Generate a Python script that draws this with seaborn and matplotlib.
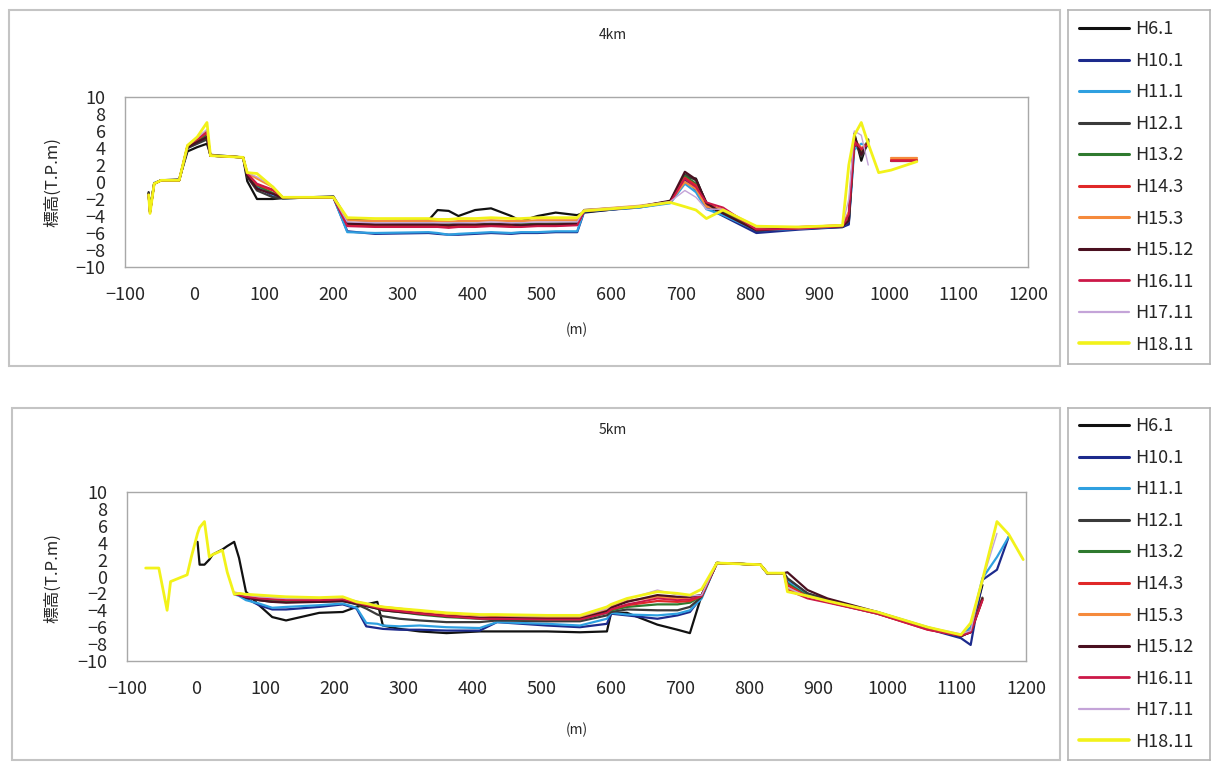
import numpy as np
import pandas as pd
import seaborn as sns
import matplotlib.pyplot as plt
from matplotlib.lines import Line2D
from matplotlib.patches import Rectangle

nan = np.nan

names = ["H6.1", "H10.1", "H11.1", "H12.1", "H13.2", "H14.3",
         "H15.3", "H15.12", "H16.11", "H17.11", "H18.11"]
colors = ["#111111", "#1c2a8c", "#2fa0e0", "#3a3a3a", "#2f7a2f", "#e02828",
          "#f58a3c", "#4a1020", "#cc1848", "#c4a4d8", "#f2f21a"]
widths = [1.6, 1.6, 1.6, 1.6, 1.6, 1.6, 1.6, 1.6, 1.4, 1.0, 2.0]

x_ticks = list(range(-100, 1201, 100))
y_ticks = list(range(-10, 11, 2))

# ---- 4km cross section ----
x_4km = [-66, -64, -58, -48, -22, -10, 4, 18, 23,
         70, 76, 90, 113, 127, 200, 220, 260, 337,
         350, 366, 380, 404, 427, 456, 470, 494, 520,
         551, 561, 640, 685, 706, 722, 737, 761, 809,
         870, 933, 942, 950, 960, 970, 985, 1003, 1040]

h6_1_4km = [-1.2, -3.2, -0.2, 0.2, 0.3, 3.6, 4.1, 4.5, 3.2,
            2.9, 0.1, -2.0, -2.0, -1.9, -1.7, -4.4, -4.6, -4.5,
            -3.3, -3.4, -4.0, -3.3, -3.1, -4.0, -4.6, -4.0, -3.6,
            -3.9, -3.6, -2.9, -2.3, 0.6, 0.4, -2.6, -3.8, -5.8,
            -5.5, -5.3, -4.8, 5.7, 2.5, 5.0, nan, nan, nan]
h10_1_4km = [-1.4, -3.5, -0.2, 0.2, 0.2, 4.0, 4.6, 5.2, 3.1,
             2.9, 0.8, -0.6, -1.6, -1.9, -1.8, -5.8, -6.1, -6.0,
             -6.1, -6.2, -6.2, -6.1, -6.0, -6.1, -6.0, -6.0, -5.9,
             -5.9, -3.5, -3.0, -2.4, 0.3, -0.9, -3.0, -4.0, -6.0,
             -5.6, -5.3, -5.0, 4.5, 3.5, 4.8, nan, nan, nan]
h11_1_4km = [-1.4, -3.5, -0.1, 0.2, 0.2, 4.1, 4.8, 5.5, 3.1,
             2.9, 0.9, -0.4, -1.5, -1.9, -1.8, -5.9, -6.0, -5.9,
             -6.0, -6.2, -6.1, -6.0, -5.9, -6.0, -5.9, -5.9, -5.8,
             -5.8, -3.4, -3.0, -2.5, -0.2, -1.2, -3.2, -3.9, -5.7,
             -5.5, -5.2, -4.6, 3.8, 4.5, 4.2, nan, nan, nan]
h12_1_4km = [-1.3, -3.4, -0.2, 0.2, 0.2, 4.0, 4.5, 5.0, 3.1,
             2.9, 0.6, -1.0, -1.8, -1.9, -1.8, -4.8, -5.0, -4.9,
             -5.0, -5.0, -4.9, -5.0, -4.9, -5.0, -4.9, -4.9, -4.9,
             -4.8, -3.4, -2.9, -2.3, 0.9, 0.2, -2.4, -3.6, -5.6,
             -5.4, -5.2, -4.4, 5.2, 3.0, 4.6, nan, nan, nan]
h13_2_4km = [-1.4, -3.5, -0.2, 0.2, 0.2, 4.2, 4.9, 5.6, 3.1,
             2.9, 0.8, -0.4, -1.3, -1.9, -1.8, -4.9, -5.1, -5.0,
             -5.1, -5.0, -5.1, -5.0, -5.0, -5.1, -5.0, -5.0, -4.9,
             -4.9, -3.3, -2.9, -2.3, 0.7, -0.2, -2.7, -3.5, -5.5,
             -5.4, -5.2, -4.2, 4.8, 3.6, 4.9, nan, 2.5, 2.5]
h14_3_4km = [-1.5, -3.6, -0.2, 0.2, 0.2, 4.2, 5.0, 5.8, 3.1,
             2.9, 1.0, -0.3, -1.0, -1.8, -1.8, -5.1, -5.2, -5.2,
             -5.2, -5.3, -5.2, -5.2, -5.1, -5.2, -5.2, -5.1, -5.1,
             -5.0, -3.4, -2.9, -2.3, 0.5, -0.4, -2.6, -3.3, -5.4,
             -5.3, -5.1, -4.0, 4.6, 3.8, 4.7, nan, 2.6, 2.6]
h15_3_4km = [-1.5, -3.6, -0.2, 0.2, 0.2, 4.3, 5.2, 6.0, 3.1,
             2.9, 1.1, 0.4, -0.6, -1.8, -1.8, -4.5, -4.6, -4.6,
             -4.6, -4.7, -4.6, -4.6, -4.5, -4.6, -4.6, -4.5, -4.5,
             -4.5, -3.3, -2.8, -2.3, 0.0, -0.8, -2.9, -3.2, -5.3,
             -5.3, -5.1, -3.5, 5.0, 4.0, 4.5, nan, 2.8, 2.8]
h15_12_4km = [-1.4, -3.5, -0.2, 0.2, 0.2, 4.1, 4.7, 5.3, 3.1,
              2.9, 0.7, -0.8, -1.4, -1.9, -1.8, -4.9, -5.0, -5.0,
              -5.0, -5.1, -5.0, -5.0, -5.0, -5.0, -5.1, -5.0, -5.0,
              -4.9, -3.4, -2.9, -2.2, 1.2, 0.3, -2.5, -3.7, -5.7,
              -5.4, -5.2, -4.6, 5.4, 3.2, 4.8, nan, nan, nan]
h16_11_4km = [-1.5, -3.6, -0.2, 0.2, 0.2, 4.3, 5.1, 5.9, 3.1,
              2.9, 1.0, -0.2, -0.9, -1.8, -1.8, -5.2, -5.3, -5.3,
              -5.3, -5.4, -5.3, -5.3, -5.2, -5.3, -5.3, -5.2, -5.2,
              -5.1, -3.4, -2.9, -2.4, 0.4, -0.6, -2.4, -3.0, -5.6,
              -5.5, -5.2, -3.8, 4.8, 3.9, 4.4, nan, 2.5, 2.5]
h17_11_4km = [-1.5, -3.6, -0.2, 0.2, 0.2, 4.3, 5.2, 6.2, 3.1,
              2.9, 1.1, 0.6, -0.5, -1.8, -1.8, -4.7, -4.8, -4.8,
              -4.8, -4.8, -4.8, -4.8, -4.7, -4.8, -4.8, -4.7, -4.7,
              -4.7, -3.3, -2.8, -2.3, -1.0, -1.8, -3.2, -3.2, -5.3,
              -5.3, -5.1, -2.0, 6.0, 5.5, 2.0, nan, nan, nan]
h18_11_4km = [-1.5, -3.7, -0.2, 0.2, 0.2, 4.3, 5.3, 7.0, 3.1,
              2.9, 1.1, 1.0, -0.6, -1.8, -1.8, -4.2, -4.3, -4.3,
              -4.4, -4.4, -4.3, -4.3, -4.2, -4.3, -4.3, -4.2, -4.2,
              -4.2, -3.4, -2.9, -2.4, -2.9, -3.3, -4.3, -3.3, -5.2,
              -5.3, -5.1, 2.0, 5.5, 7.0, 4.5, 1.1, 1.4, 2.4]

# ---- 5km cross section ----
x_5km = [-73, -54, -42, -37, -13, -7, 2, 5, 12,
         19, 24, 38, 45, 55, 62, 72, 91, 110,
         130, 178, 212, 232, 246, 262, 270, 294, 323,
         362, 410, 435, 507, 555, 594, 600, 623, 667,
         696, 714, 731, 753, 816, 826, 850, 855, 884,
         913, 985, 1058, 1106, 1120, 1137, 1158, 1175, 1196]

h6_1_5km = [nan, nan, nan, nan, nan, nan, 4.1, 1.4, 1.4,
            2.0, 2.6, 3.2, 3.6, 4.1, 2.2, -1.8, -3.4, -4.8,
            -5.2, -4.3, -4.2, -3.6, -3.3, -3.0, -5.8, -6.2, -6.5,
            -6.7, -6.5, -6.5, -6.5, -6.6, -6.5, -4.3, -4.3, -5.7,
            -6.3, -6.7, -2.2, 1.6, 1.4, 0.4, 0.4, -1.0, -2.2,
            -2.8, -4.3, -6.2, -7.1, -6.5, -1.0, nan, nan, nan]
h10_1_5km = [nan, nan, nan, nan, nan, nan, nan, nan, nan,
             nan, nan, nan, nan, -2.0, -2.2, -2.6, -3.4, -3.9,
             -3.9, -3.6, -3.3, -3.8, -5.9, -6.1, -6.2, -6.3, -6.3,
             -6.4, -6.4, -5.4, -5.8, -6.0, -5.6, -4.4, -4.6, -5.0,
             -4.6, -4.2, -2.4, 1.6, 1.4, 0.3, 0.4, -0.3, -2.0,
             -2.8, -4.3, -6.2, -7.3, -8.1, -0.4, 0.8, 4.7, nan]
h11_1_5km = [nan, nan, nan, nan, nan, nan, nan, nan, nan,
             nan, nan, nan, nan, -2.1, -2.3, -2.8, -3.2, -3.7,
             -3.6, -3.4, -3.2, -3.7, -5.5, -5.6, -5.8, -5.9, -5.8,
             -6.0, -6.1, -5.4, -5.6, -5.8, -5.0, -4.3, -4.5, -4.6,
             -4.4, -4.0, -2.6, 1.6, 1.4, 0.4, 0.4, -0.6, -2.2,
             -2.9, -4.2, -6.0, -7.0, -6.0, -0.2, 2.3, 4.7, nan]
h12_1_5km = [nan, nan, nan, nan, nan, nan, nan, nan, nan,
             nan, nan, nan, nan, -2.0, -2.1, -2.4, -2.8, -3.0,
             -3.0, -3.0, -2.9, -3.3, -3.8, -4.5, -4.7, -5.0, -5.2,
             -5.4, -5.4, -5.2, -5.3, -5.3, -4.6, -4.2, -3.9, -4.0,
             -4.0, -3.6, -2.4, 1.6, 1.4, 0.4, 0.4, -0.2, -2.0,
             -2.7, -4.3, -6.1, -7.0, -6.4, -2.5, nan, nan, nan]
h13_2_5km = [nan, nan, nan, nan, nan, nan, nan, nan, nan,
             nan, nan, nan, nan, -2.0, -2.1, -2.3, -2.6, -2.8,
             -2.9, -2.9, -2.8, -3.2, -3.5, -3.8, -4.0, -4.2, -4.5,
             -4.8, -5.0, -5.0, -5.1, -5.1, -4.3, -4.0, -3.6, -3.3,
             -3.3, -3.1, -2.3, 1.6, 1.4, 0.4, 0.4, -0.8, -2.3,
             -3.0, -4.4, -6.2, -7.0, -6.6, -2.7, nan, nan, nan]
h14_3_5km = [nan, nan, nan, nan, nan, nan, nan, nan, nan,
             nan, nan, nan, nan, -2.0, -2.1, -2.3, -2.5, -2.6,
             -2.7, -2.8, -2.7, -3.1, -3.4, -3.6, -3.8, -4.0, -4.3,
             -4.6, -4.9, -5.0, -5.0, -5.0, -4.2, -3.9, -3.4, -2.9,
             -3.0, -2.9, -2.3, 1.6, 1.4, 0.4, 0.4, -1.0, -2.4,
             -3.0, -4.4, -6.3, -7.0, -6.6, -2.8, nan, nan, nan]
h15_3_5km = [nan, nan, nan, nan, nan, nan, nan, nan, nan,
             nan, nan, nan, nan, -1.9, -2.0, -2.2, -2.4, -2.5,
             -2.6, -2.6, -2.6, -3.0, -3.3, -3.5, -3.6, -3.8, -4.1,
             -4.4, -4.6, -4.7, -4.8, -4.8, -3.9, -3.5, -2.9, -2.4,
             -2.6, -2.5, -2.2, 1.6, 1.4, 0.4, 0.4, -1.4, -2.5,
             -3.0, -4.3, -6.2, -6.9, -6.5, -2.6, nan, nan, nan]
h15_12_5km = [nan, nan, nan, nan, nan, nan, nan, nan, nan,
              nan, nan, nan, nan, -2.0, -2.2, -2.5, -2.8, -3.0,
              -3.1, -3.0, -2.9, -3.2, -3.5, -3.8, -4.0, -4.2, -4.4,
              -4.7, -4.9, -4.9, -5.0, -5.0, -4.1, -3.7, -3.0, -2.2,
              -2.4, -2.4, -2.2, 1.6, 1.4, 0.4, 0.4, 0.5, -1.6,
              -2.6, -4.2, -6.1, -7.0, -6.6, -2.6, nan, nan, nan]
h16_11_5km = [nan, nan, nan, nan, nan, nan, nan, nan, nan,
              nan, nan, nan, nan, -2.1, -2.2, -2.4, -2.6, -2.7,
              -2.8, -2.8, -2.7, -3.1, -3.4, -3.7, -3.9, -4.1, -4.4,
              -4.7, -5.0, -5.0, -5.1, -5.1, -4.3, -3.9, -3.3, -2.6,
              -2.8, -2.7, -2.3, 1.6, 1.4, 0.4, 0.4, -1.6, -2.6,
              -3.1, -4.4, -6.3, -7.0, -6.6, -2.8, nan, nan, nan]
h17_11_5km = [nan, nan, nan, nan, nan, nan, nan, nan, nan,
              nan, nan, nan, nan, -1.9, -2.0, -2.2, -2.4, -2.5,
              -2.6, -2.6, -2.5, -2.9, -3.2, -3.4, -3.6, -3.8, -4.0,
              -4.3, -4.5, -4.6, -4.7, -4.7, -3.8, -3.4, -2.7, -1.6,
              -2.2, -2.3, -2.2, 1.6, 1.4, 0.4, 0.4, -1.3, -2.4,
              -2.9, -4.2, -6.0, -6.8, -6.4, -0.5, 5.1, nan, nan]
h18_11_5km = [1.0, 1.0, -4.0, -0.6, 0.2, 2.3, 5.1, 5.8, 6.5,
              2.3, 2.6, 3.1, 0.5, -2.1, -2.0, -2.1, -2.2, -2.3,
              -2.4, -2.5, -2.4, -3.0, -3.2, -3.5, -3.6, -3.8, -4.0,
              -4.3, -4.5, -4.5, -4.6, -4.6, -3.6, -3.3, -2.6, -1.8,
              -2.0, -2.2, -1.5, 1.6, 1.4, 0.4, 0.4, -1.8, -2.3,
              -2.9, -4.2, -6.0, -6.9, -5.5, -0.4, 6.5, 5.0, 2.0]

series_4km = [h6_1_4km, h10_1_4km, h11_1_4km, h12_1_4km, h13_2_4km, h14_3_4km,
              h15_3_4km, h15_12_4km, h16_11_4km, h17_11_4km, h18_11_4km]
series_5km = [h6_1_5km, h10_1_5km, h11_1_5km, h12_1_5km, h13_2_5km, h14_3_5km,
              h15_3_5km, h15_12_5km, h16_11_5km, h17_11_5km, h18_11_5km]


def long_table(xs, series):
    # gaps (nan) split a survey line into separate pieces
    rows = []
    for name, ys in zip(names, series):
        seg = 0
        for x, y in zip(xs, ys):
            if np.isnan(y):
                seg += 1
                continue
            rows.append((x, y, name, f"{name}_{seg}"))
    return pd.DataFrame(rows, columns=["x", "y", "series", "seg"])


W, H = 1213, 762


def fx(px):
    return px / W


def fy(py):
    return 1 - py / H


sns.set_style("white")
plt.rcParams["font.family"] = ["Noto Sans CJK JP", "DejaVu Sans"]

fig = plt.figure(figsize=(W / 100, H / 100), dpi=100)

panels = [
    dict(title="4km", series=series_4km, xs=x_4km, box=(9, 10, 1060, 366),
         plot=(125, 97, 1028, 267), title_y=35, xlabel_y=330, ylabel_y=182,
         legend=(1068, 10, 1210, 364)),
    dict(title="5km", series=series_5km, xs=x_5km, box=(12, 408, 1060, 760),
         plot=(127, 492, 1026, 661), title_y=430, xlabel_y=730, ylabel_y=578,
         legend=(1068, 408, 1210, 760)),
]

pal = dict(zip(names, colors))
lw = dict(zip(names, widths))

for p in panels:
    x0, y0, x1, y1 = p["box"]
    fig.patches.append(Rectangle((fx(x0), fy(y1)), fx(x1) - fx(x0), fy(y0) - fy(y1),
                                 transform=fig.transFigure, fill=False,
                                 edgecolor="#c4c4c4", linewidth=1.5))

    l, t, r, b = p["plot"]
    ax = fig.add_axes([fx(l), fy(b), fx(r) - fx(l), fy(t) - fy(b)])
    df = long_table(p["xs"], p["series"])
    sns.lineplot(data=df, x="x", y="y", hue="series", size="series", units="seg",
                 estimator=None, sort=False, hue_order=names, palette=pal,
                 size_order=names, sizes=lw, legend=False, ax=ax)
    ax.set_xlim(-100, 1200)
    ax.set_ylim(-10, 10)
    ax.set_xticks(x_ticks)
    ax.set_yticks(y_ticks)
    ax.set_xlabel("")
    ax.set_ylabel("")
    for s in ax.spines.values():
        s.set_color("#a8a8a8")
        s.set_linewidth(1.0)
    ax.tick_params(axis="x", direction="inout", length=6, color="#a8a8a8",
                   labelsize=13, pad=11)
    ax.tick_params(axis="y", direction="in", length=4, color="#c8c8c8",
                   labelsize=13, pad=14)

    fig.text(fx(613), fy(p["title_y"]), p["title"], ha="center", va="center", fontsize=10)
    fig.text(fx(577), fy(p["xlabel_y"]), "(m)", ha="center", va="center", fontsize=10)
    fig.text(fx(53), fy(p["ylabel_y"]), "標高(T.P.m)", ha="center", va="center",
             rotation=90, fontsize=12)

    lx0, ly0, lx1, ly1 = p["legend"]
    lax = fig.add_axes([fx(lx0), fy(ly1), fx(lx1) - fx(lx0), fy(ly0) - fy(ly1)])
    lax.set_xticks([])
    lax.set_yticks([])
    for s in lax.spines.values():
        s.set_color("#b4b4b4")
        s.set_linewidth(1.2)
    handles = [Line2D([], [], color=c, linewidth=w + 0.6) for c, w in zip(colors, widths)]
    lax.legend(handles, names, loc="center left", frameon=False, fontsize=13,
               handlelength=2.8, handletextpad=0.3, labelspacing=0.75,
               borderaxespad=0.2)

fig.savefig("out.png", dpi=100)
